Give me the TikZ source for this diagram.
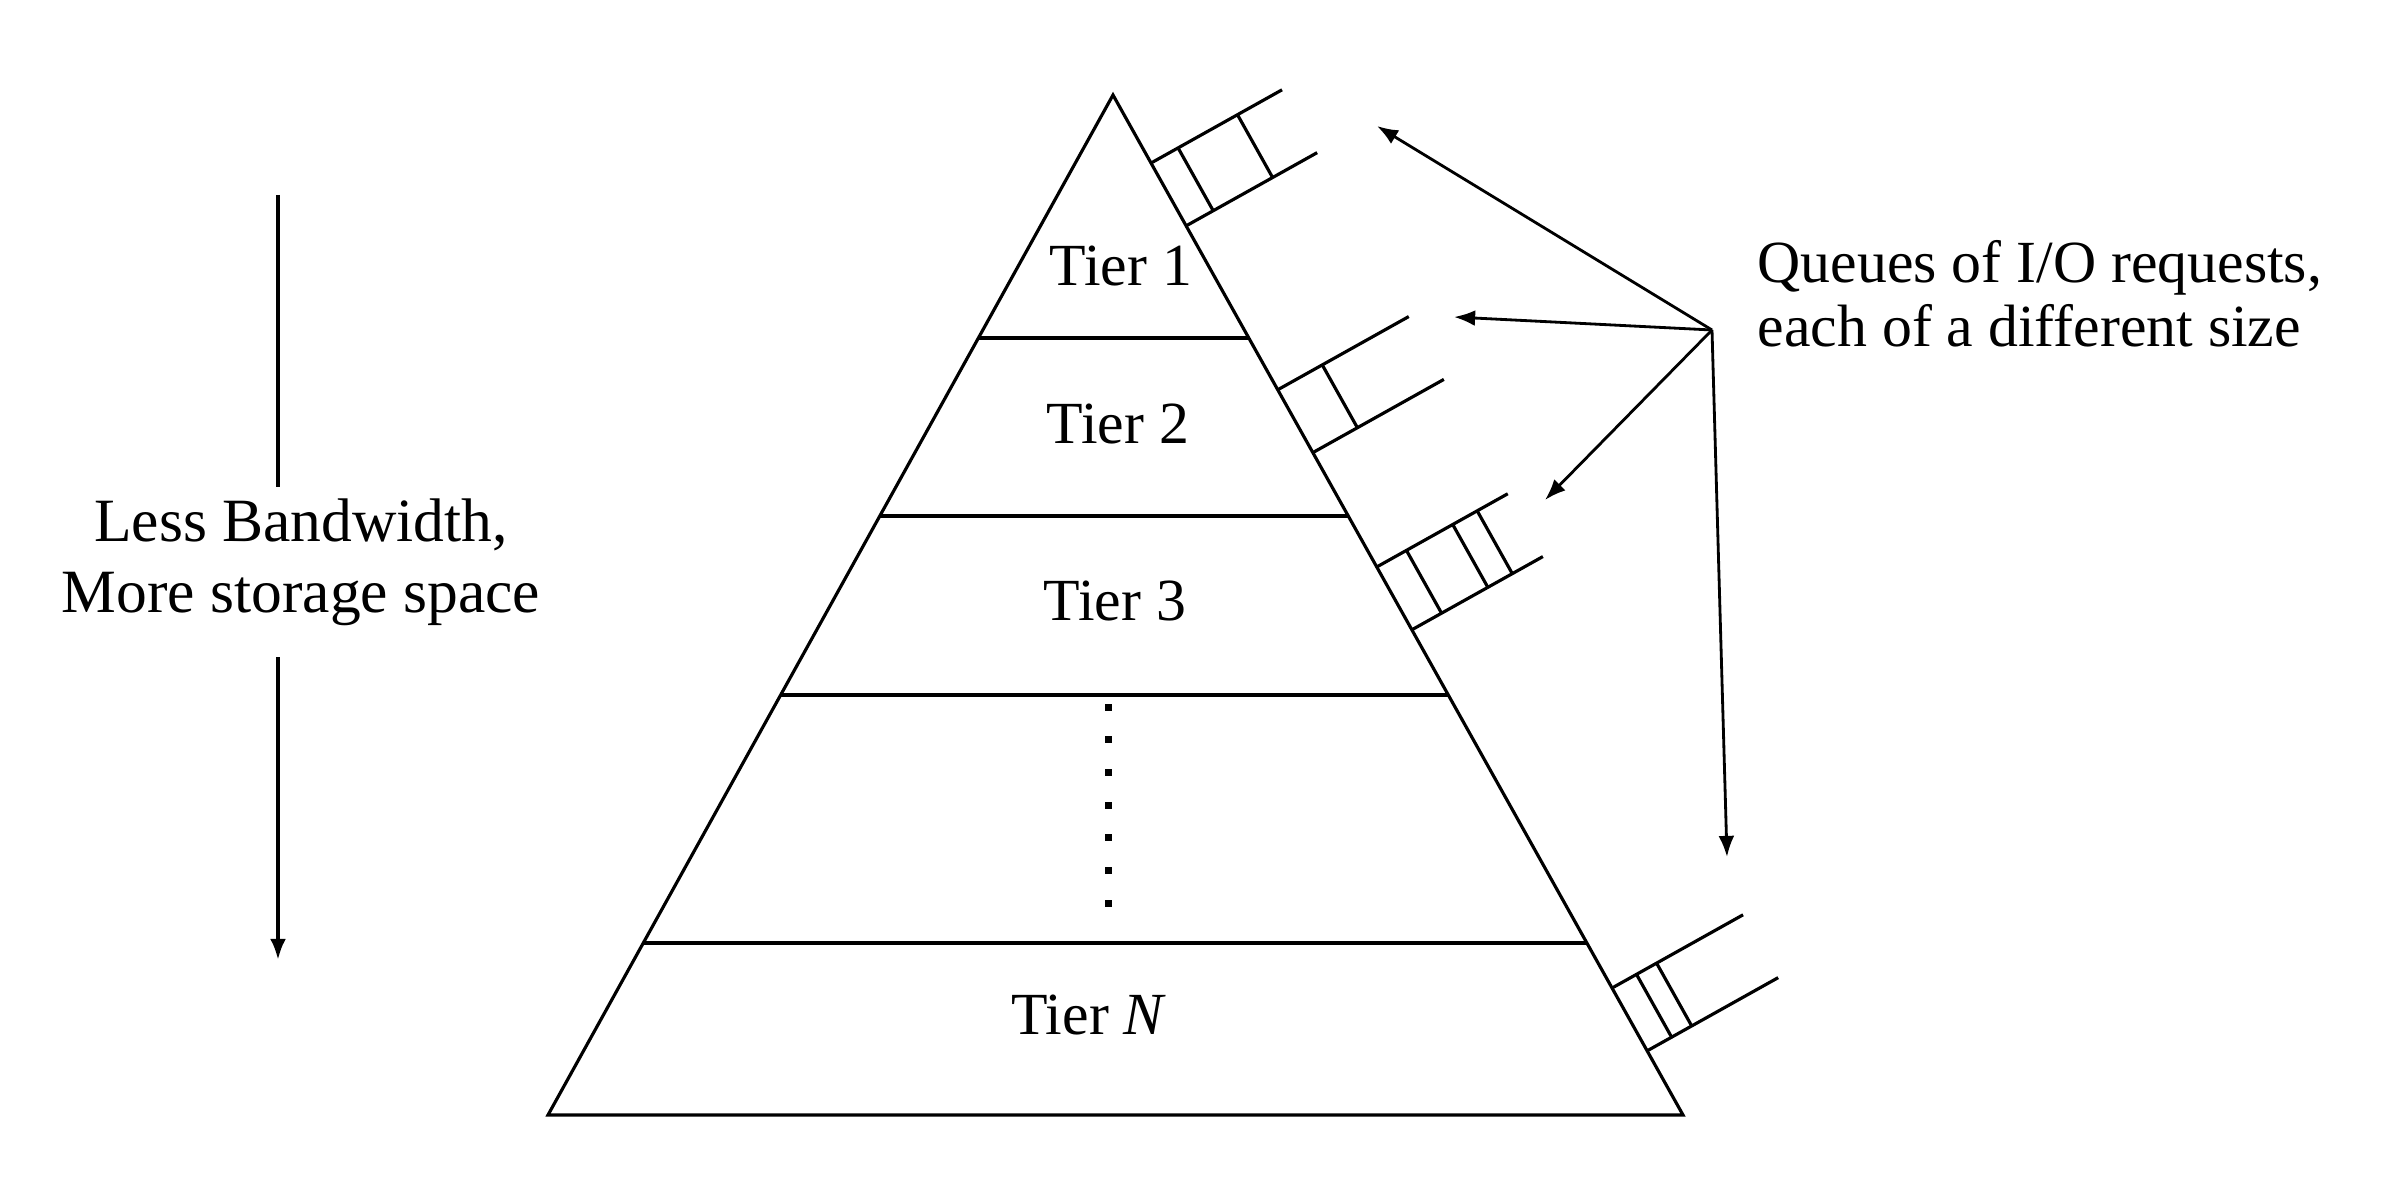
\documentclass[tikz,border=0pt]{standalone}
\usepackage{fontspec}
\setmainfont{Liberation Serif}
\usetikzlibrary{calc,arrows.meta}

\tikzset{
	pyramid/.style={line width=0.9pt, line join=miter},
	queueline/.style={line width=0.9pt},
	pointer/.style={line width=0.8pt, -{Latex[length=6pt,width=4.5pt]}},
	tierlabel/.style={font=\fontsize{17}{20}\selectfont, inner sep=0pt, anchor=base},
}

% one queue on the right side of the pyramid: name, position on the side, dividers
\newcommand{\ioqueue}[3]{%
	\coordinate (#1u) at ($(top)!#2!(br)$);
	\coordinate (#1l) at ($(top)!#2+0.0616!(br)$);
	\draw[queueline] (#1u) -- ($(#1u)!1.5cm!90:(#1l)$);
	\draw[queueline] (#1l) -- ($(#1l)!1.5cm!-90:(#1u)$);
	\foreach \d in {#3}
		\draw[queueline] ($(#1u)!\d!90:(#1l)$) -- ($(#1l)!\d!-90:(#1u)$);
}

\begin{document}
\begin{tikzpicture}[x=0.01cm, y=-0.01cm]
	\useasboundingbox (0,0) rectangle (2396,1188);

	% pyramid
	\coordinate (top) at (1113,95);
	\coordinate (bl)  at (548,1115);
	\coordinate (br)  at (1683,1115);
	\draw[pyramid] (top) -- (bl) -- (br) -- cycle;

	% tier borders
	\foreach \t in {0.2382,0.4127,0.5882,0.8314}
		\draw[pyramid] ($(top)!\t!(bl)$) -- ($(top)!\t!(br)$);

	\node[tierlabel] (tier1) at (1121,285)  {Tier 1};
	\node[tierlabel] (tier2) at (1118,443)  {Tier 2};
	\node[tierlabel] (tier3) at (1115,620)  {Tier 3};
	\node[tierlabel] (tierN) at (1089,1034) {Tier \textit{N}};

	% dots between tier 3 and tier N
	\foreach \k in {0,...,6}
		\fill (1104.5,703.5+32.7*\k) rectangle ++(7,7);

	% queues
	\ioqueue{q1}{0.0667}{0.31cm,0.99cm}
	\ioqueue{q2}{0.2890}{0.51cm}
	\ioqueue{q3}{0.4627}{0.34cm,0.87cm,1.15cm}
	\ioqueue{qN}{0.8755}{0.28cm,0.51cm}

	% left side
	\coordinate (bwtop) at (278,195);
	\coordinate (bwbot) at (278,960);
	\node[font=\fontsize{17.5}{20.2}\selectfont, align=center, inner sep=0pt] (bw) at (301,562)
		{Less Bandwidth,\\More storage space};
	\draw[line width=1.1pt] (bwtop) -- (bwtop |- 0,487);
	\draw[line width=1.1pt, -{Latex[length=6pt,width=4.5pt]}] (bwtop |- 0,657) -- (bwbot);

	% right side
	\node[font=\fontsize{17}{18}\selectfont, align=left, inner sep=0pt, anchor=north west] (qtext) at (1757,240)
		{Queues of I/O requests,\\each of a different size};
	\coordinate (src) at (1712,330);
	\coordinate (to1) at (1377,126);
	\coordinate (to2) at (1454,317);
	\coordinate (to3) at (1545,500);
	\coordinate (toN) at (1727,857);
	\path[pointer] (src) edge (to1) edge (to2) edge (to3) edge (toN);
\end{tikzpicture}
\end{document}
